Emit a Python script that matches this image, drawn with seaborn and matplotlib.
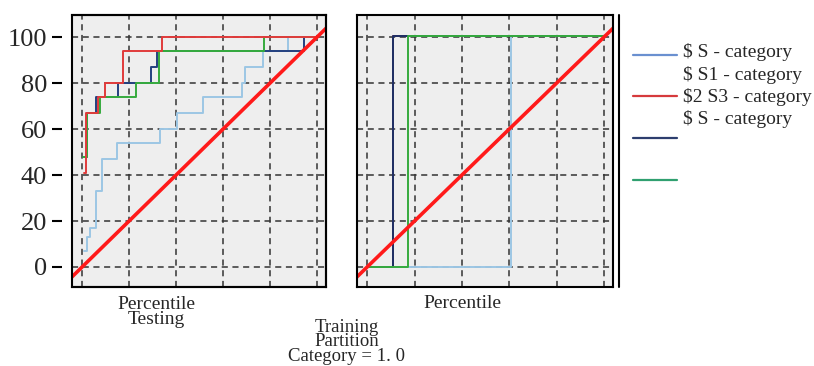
import matplotlib
matplotlib.use("Agg")
import matplotlib.pyplot as plt
from matplotlib.lines import Line2D
import seaborn as sns

sns.set_style("white")
plt.rcParams['font.family'] = ['Liberation Serif', 'DejaVu Serif']

# --- data ---
diag = [-10, 110]

# Testing panel (left), step curves
test_light_x = [0.7, 2, 3.3, 6, 8.5, 15, 33, 40.5, 51.5, 68, 69.5, 77, 87.5, 100]
test_light_y = [7, 13, 17, 33, 47, 54, 60, 67, 74, 80, 87, 94, 100, 100]
test_red_x = [0.7, 1.6, 6.8, 9.7, 17.5, 33.9, 100]
test_red_y = [41, 67, 74, 80, 94, 100, 100]
test_navy_x = [0.4, 2.1, 6.1, 15.4, 29.3, 32, 94.3, 100]
test_navy_y = [48, 67, 74, 80, 87, 94, 100, 100]
test_green_x = [0.4, 2.1, 7.5, 22.9, 32.7, 77.5, 100]
test_green_y = [48, 67, 74, 80, 94, 100, 100]

# Training panel (right)
train_light_x = [0, 60.9, 100]
train_light_y = [0, 100.5, 100.5]
train_red_x = [0, 10.8, 100]
train_red_y = [0, 100.5, 100.5]
train_navy_x = [0, 10.8, 100]
train_navy_y = [0, 100.5, 100.5]
train_green_x = [0, 17.1, 100]
train_green_y = [0, 100.5, 100.5]

ticks = [0, 20, 40, 60, 80, 100]
legend_labels = ["\\$ S - category", "\\$ S1 - category", "\\$2 S3 - category", "\\$ S - category"]

c_light = "#9cc6e4"
c_red = "#e03b3b"
c_navy = "#23407f"
c_green = "#35ab3e"
c_diag = "#ff1a1a"

fig = plt.figure(figsize=(8.14, 3.66), dpi=100)
ax1 = fig.add_axes([72 / 814, 79 / 366, 254 / 814, 272 / 366])
ax2 = fig.add_axes([357 / 814, 79 / 366, 256 / 814, 272 / 366])


def style_axes(ax):
    ax.set_facecolor("#eeeeee")
    ax.set_xlim(-4.3, 103.8)
    ax.set_ylim(-8.7, 109.6)
    ax.set_xticks(ticks)
    ax.set_yticks(ticks)
    ax.grid(True, color="#333333", linestyle=(0, (4, 3)), linewidth=1.1)
    for s in ax.spines.values():
        s.set_color("black")
        s.set_linewidth(1.5)
    ax.tick_params(axis="x", length=0, labelbottom=False)


def steps(ax, x, y, color, lw=1.4):
    sns.lineplot(x=x, y=y, ax=ax, color=color, linewidth=lw,
                 drawstyle="steps-post", estimator=None, sort=False)


style_axes(ax1)
steps(ax1, test_light_x, test_light_y, c_light)
steps(ax1, test_navy_x, test_navy_y, c_navy)
steps(ax1, test_green_x, test_green_y, c_green)
steps(ax1, test_red_x, test_red_y, c_red)
sns.lineplot(x=diag, y=diag, ax=ax1, color=c_diag, linewidth=2.6)

# ticks sit a little away from the box, as in the original
ax1.spines["left"].set_position(("outward", 7))
ax1.spines["left"].set_visible(False)
ax1.add_patch(plt.Rectangle((0, 0), 1, 1, transform=ax1.transAxes, fill=False,
                            edgecolor="black", linewidth=1.5, clip_on=False, zorder=5))
ax1.set_yticklabels([str(t) for t in ticks])
ax1.tick_params(axis="y", left=True, direction="out", length=7, width=1.5,
                pad=4, labelsize=19, color="black")

style_axes(ax2)
steps(ax2, train_red_x, train_red_y, c_red)
steps(ax2, train_light_x, train_light_y, c_light)
steps(ax2, train_navy_x, train_navy_y, "#1c2f66")
steps(ax2, train_green_x, train_green_y, c_green)
sns.lineplot(x=diag, y=diag, ax=ax2, color=c_diag, linewidth=2.6)
ax2.tick_params(axis="y", length=0, labelleft=False)

# axis texts
fig.text(156 / 814, 1 - 312 / 366, "Percentile\nTesting", ha="center", va="center",
         fontsize=14, linespacing=0.85)
fig.text(462 / 814, 1 - 303 / 366, "Percentile", ha="center", va="center", fontsize=14)
fig.text(347 / 814, 1 - 342 / 366, "Training\nPartition\nCategory = 1. 0", ha="center",
         va="center", fontsize=13.5, linespacing=0.8)

# separator line
fig.add_artist(Line2D([619 / 814, 619 / 814], [1 - 15 / 366, 1 - 287 / 366],
                      transform=fig.transFigure, color="black", linewidth=1.5))

# legend: keys and labels are offset in the original
handles = [Line2D([], [], color=c, linewidth=1.6)
           for c in ["#6a90d0", "#d63a3c", "#2d3e6e", "#30a070"]]
fig.legend(handles=handles, labels=["", "", "", ""], loc="upper left",
           bbox_to_anchor=(623 / 814, 1 - 38 / 366), frameon=False,
           handlelength=2.27, labelspacing=1.24, fontsize=14, borderpad=0,
           handletextpad=0)
for i, lab in enumerate(legend_labels):
    fig.text(683 / 814, 1 - (52 + 22.5 * i) / 366, lab, ha="left", va="center", fontsize=14)

fig.savefig("out.png", dpi=100)
